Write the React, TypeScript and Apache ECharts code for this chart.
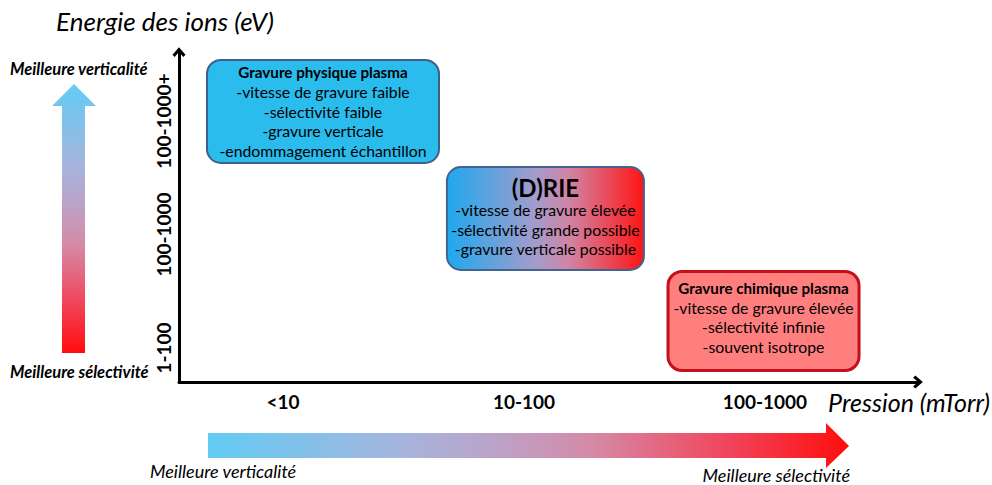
import React, { useEffect, useRef } from "react";
import * as echarts from "echarts";

// Pressure categories (x) and ion energy categories (y)
const xCategories = ["<10", "10-100", "100-1000"];
const yCategories = ["1-100", "100-1000", "100-1000+"];

// Regime boxes: position in axis units (x: pressure index, y: energy index)
const boxNames = ["Gravure physique plasma", "(D)RIE", "Gravure chimique plasma"];
const boxX = [0.166, 1.089, 1.994];
const boxY = [2.084, 1.141, 0.238];
const boxLines = [
  ["-vitesse de gravure faible", "-sélectivité faible", "-gravure verticale", "-endommagement échantillon"],
  ["-vitesse de gravure élevée", "-sélectivité grande possible", "-gravure verticale possible"],
  ["-vitesse de gravure élevée", "-sélectivité infinie", "-souvent isotrope"],
];

const FONT = "Lato, 'Open Sans', sans-serif";

const gradStops = [
  { offset: 0, color: "#62CCF4" },
  { offset: 0.3, color: "#A5B5DD" },
  { offset: 0.45, color: "#BCA2C8" },
  { offset: 0.6, color: "#D58AA6" },
  { offset: 0.8, color: "#F04860" },
  { offset: 1, color: "#FF0D0D" },
];

const CHEVRON = "path://M6,0 L12,7 L10,9 L6,4.4 L2,9 L0,7 Z";

export default function App() {
  const ref = useRef<HTMLDivElement>(null);
  useEffect(() => {
    if (!ref.current) return;
    const chart = echarts.init(ref.current, null, { renderer: "svg" });

    const boxStyles = [
      { w: 232, h: 103, dy: 0, fill: "#2BBCEE", stroke: "#3E5F8A", lw: 2, titleKey: "t" },
      {
        w: 197, h: 103, dy: -2,
        fill: new echarts.graphic.LinearGradient(0, 0, 1, 0, [
          { offset: 0, color: "#1FA8EE" },
          { offset: 0.45, color: "#A49CCB" },
          { offset: 0.62, color: "#D184A4" },
          { offset: 1, color: "#FF1414" },
        ]),
        stroke: "#42638D", lw: 2, titleKey: "T",
      },
      { w: 191, h: 99, dy: -4, fill: "#FF7F7F", stroke: "#C4101A", lw: 3, titleKey: "t" },
    ];

    const option: any = {
      animation: false,
      grid: { left: 179, right: 74, top: 52, bottom: 103, containLabel: false, outerBoundsMode: "none" },
      xAxis: {
        type: "value",
        min: -0.4315,
        max: 2.635,
        name: "Pression (mTorr)",
        nameLocation: "end",
        nameGap: 72,
        nameTextStyle: {
          fontFamily: FONT, fontStyle: "italic", fontSize: 25, color: "#000",
          align: "right", verticalAlign: "top", padding: [7, 0, 0, 0],
        },
        axisLine: {
          show: true,
          onZero: false,
          lineStyle: { color: "#000", width: 3 },
          symbol: ["none", CHEVRON],
          symbolSize: [13, 10],
        },
        axisTick: { show: false },
        splitLine: { show: false },
        axisLabel: {
          customValues: [0, 1, 2],
          formatter: (v: number) => xCategories[Math.round(v)] ?? "",
          fontFamily: FONT, fontWeight: "bold", fontSize: 19, color: "#000", margin: 10,
        },
      },
      yAxis: {
        type: "value",
        min: -0.2996,
        max: 2.608,
        name: "Energie des ions (eV)",
        nameLocation: "end",
        nameGap: 18,
        nameTextStyle: {
          fontFamily: FONT, fontStyle: "italic", fontSize: 26, color: "#000",
          padding: [0, 28, 0, 0],
        },
        axisLine: {
          show: true,
          onZero: false,
          lineStyle: { color: "#000", width: 3 },
          symbol: ["none", CHEVRON],
          symbolSize: [13, 10],
        },
        axisTick: { show: false },
        splitLine: { show: false },
        axisLabel: {
          customValues: [0, 1, 2],
          formatter: (v: number) => yCategories[Math.round(v)] ?? "",
          rotate: 90,
          fontFamily: FONT, fontWeight: "bold", fontSize: 19, color: "#000", margin: 6,
        },
      },
      series: [
        {
          type: "custom",
          clip: false,
          data: boxX.map((x, i) => [x, boxY[i], i]),
          renderItem: (_params: any, api: any) => {
            const i = api.value(2);
            const c = api.coord([api.value(0), api.value(1)]);
            const s = boxStyles[i];
            const text =
              `{${s.titleKey}|${boxNames[i]}}\n` + boxLines[i].map((l) => `{b|${l}}`).join("\n");
            return {
              type: "group",
              children: [
                {
                  type: "rect",
                  shape: { x: c[0] - s.w / 2, y: c[1] - s.h / 2, width: s.w, height: s.h, r: 14 },
                  style: { fill: s.fill, stroke: s.stroke, lineWidth: s.lw },
                },
                {
                  type: "text",
                  x: c[0],
                  y: c[1] + s.dy,
                  style: {
                    text,
                    align: "center",
                    verticalAlign: "middle",
                    fill: "#000",
                    rich: {
                      t: { fontFamily: FONT, fontWeight: "bold", fontSize: 15.2, lineHeight: 19.5, fill: "#000", align: "center" },
                      T: { fontFamily: FONT, fontWeight: "bold", fontSize: 24, lineHeight: 26, fill: "#000", align: "center" },
                      b: { fontFamily: FONT, fontSize: 15.8, lineHeight: 19.5, fill: "#000", align: "center" },
                    },
                  },
                },
              ],
            };
          },
        },
      ],
      graphic: [
        {
          type: "polygon",
          shape: { points: [[74, 84], [96, 106], [85, 106], [85, 353], [62, 353], [62, 106], [52, 106]] },
          style: { fill: new echarts.graphic.LinearGradient(0, 0, 0, 1, gradStops) },
        },
        {
          type: "polygon",
          shape: { points: [[208, 433], [826, 433], [826, 423], [849, 446], [826, 468], [826, 458], [208, 458]] },
          style: { fill: new echarts.graphic.LinearGradient(0, 0, 1, 0, gradStops) },
        },
        {
          type: "text", left: 10, top: 60,
          style: { text: "Meilleure verticalité", font: `italic bold 16.5px ${FONT}`, fill: "#000" },
        },
        {
          type: "text", left: 10, top: 363,
          style: { text: "Meilleure sélectivité", font: `italic bold 16.5px ${FONT}`, fill: "#000" },
        },
        {
          type: "text", left: 150, top: 462,
          style: { text: "Meilleure verticalité", font: `italic 18px ${FONT}`, fill: "#000" },
        },
        {
          type: "text", right: 142, top: 466,
          style: { text: "Meilleure sélectivité", font: `italic 18px ${FONT}`, fill: "#000" },
        },
      ],
    };
    chart.setOption(option);
    return () => chart.dispose();
  }, []);
  return (
    <div
      ref={ref}
      style={{ position: "fixed", left: 0, top: 0, width: 992, height: 485, background: "#fff" }}
    />
  );
}
